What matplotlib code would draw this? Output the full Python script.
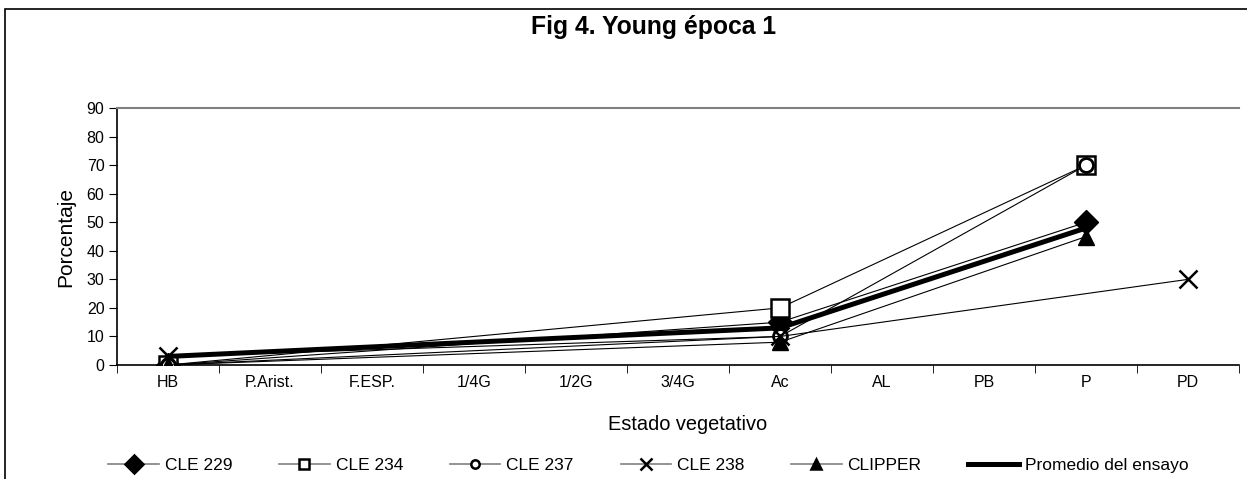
import numpy as np
import matplotlib
matplotlib.use("Agg")
import matplotlib.pyplot as plt
from matplotlib.patches import Rectangle

plt.rcParams['font.family'] = ['Liberation Sans', 'DejaVu Sans']

# Estados vegetativos (eje x)
estados = ["HB", "P.Arist.", "F.ESP.", "1/4G", "1/2G", "3/4G", "Ac", "AL", "PB", "P", "PD"]

# valores (None = sin dato)
cle229 = [0, None, None, None, None, None, 15, None, None, 50, None]
cle234 = [0, None, None, None, None, None, 20, None, None, 70, None]
cle237 = [0, None, None, None, None, None, 10, None, None, 70, None]
cle238 = [3, None, None, None, None, None, 10, None, None, None, 30]
clipper = [0, None, None, None, None, None, 8, None, None, 45, None]
promedio = [3, None, None, None, None, None, 13, None, None, 48, None]

# (nombre, datos, estilo en grafico, tamano en leyenda)
series = [
    ("CLE 229", cle229, dict(marker="D", ms=12, mfc="black"), 9),
    ("CLE 234", cle234, dict(marker="s", ms=13, mfc="white", mew=1.8), 7.5),
    ("CLE 237", cle237, dict(marker="o", ms=10, mfc="white", mew=2), 6),
    ("CLE 238", cle238, dict(marker="x", ms=13, mew=1.8), 8.5),
    ("CLIPPER", clipper, dict(marker="^", ms=11, mfc="black"), 6.5),
]


def puntos(vals):
    xs = [i for i, v in enumerate(vals) if v is not None]
    ys = [v for v in vals if v is not None]
    return xs, ys


fig = plt.figure(figsize=(12.47, 4.79), dpi=100)
ax = fig.add_axes([0.0938, 0.238, 0.9, 0.5365])

for nombre, vals, st, ms_ley in series:
    xs, ys = puntos(vals)
    ax.plot(xs, ys, color="black", lw=0.8, mec="black", zorder=3, **st)
    # entrada de leyenda con linea gris y marcador mas chico
    st_ley = dict(st)
    st_ley["ms"] = ms_ley
    st_ley["mew"] = 1.8
    ax.plot([], [], color="#808080", lw=1.2, mec="black", label=nombre, **st_ley)

xs, ys = puntos(promedio)
ax.plot(xs, ys, color="black", lw=3.6, zorder=4, label="Promedio del ensayo")

ax.set_xlim(-0.5, len(estados) - 0.5)
ax.set_ylim(0, 90)
ax.set_yticks(np.arange(0, 91, 10))
ax.set_xticks(range(len(estados)))
ax.set_xticklabels(estados)
ax.set_xticks(np.arange(-0.5, len(estados), 1), minor=True)
ax.tick_params(axis="x", which="major", length=0, labelsize=11.5, pad=7)
ax.tick_params(axis="x", which="minor", length=6, direction="out")
ax.tick_params(axis="y", length=6, direction="out", labelsize=11.5, pad=3)

ax.spines["right"].set_visible(False)
ax.spines["top"].set_color("#808080")
ax.spines["top"].set_linewidth(1.5)
ax.spines["left"].set_linewidth(1.2)
ax.spines["bottom"].set_linewidth(1.2)

ax.set_ylabel("Porcentaje", fontsize=15)
ax.yaxis.set_label_coords(-0.037, 0.5)
ax.set_xlabel("Estado vegetativo", fontsize=14.4)
ax.xaxis.set_label_coords(0.508, -0.195)

fig.text(0.524, 0.944, "Fig 4. Young época 1", ha="center", va="center",
         fontsize=17.8, fontweight="bold")

fig.legend(loc="center", bbox_to_anchor=(0.52, 0.029), ncol=6, frameon=False,
           fontsize=12.5, handlelength=2.9, handletextpad=0.35, columnspacing=2.7)

# marco de la figura
fig.patches.append(Rectangle((0.004, -0.01), 1.1, 0.991, transform=fig.transFigure,
                             fill=False, edgecolor="black", lw=1.2))

fig.savefig("out.png", dpi=100)
